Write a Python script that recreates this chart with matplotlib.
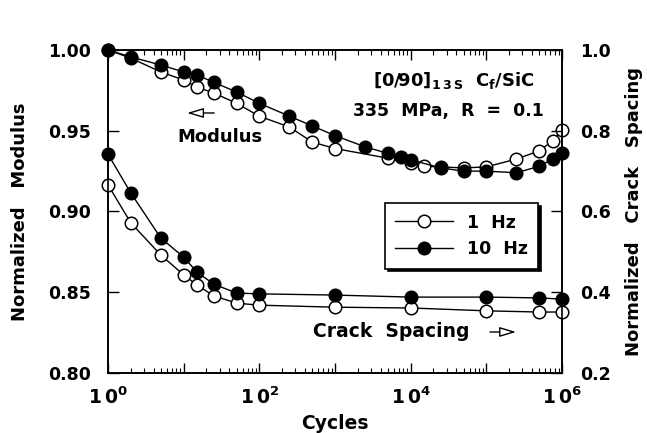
import matplotlib
matplotlib.use("Agg")
import matplotlib.pyplot as plt
from matplotlib.ticker import LogLocator, NullFormatter

plt.rcParams['font.family'] = ['DejaVu Sans']
plt.rcParams['font.weight'] = 'bold'
plt.rcParams['mathtext.default'] = 'bf'

# modulus, 1 Hz (open) and 10 Hz (filled)
mod_n_1hz = [1, 2, 5, 10, 15, 25, 50, 100, 250, 500, 1000, 5000, 1e4, 1.5e4,
             2.5e4, 5e4, 1e5, 2.5e5, 5e5, 7.5e5, 1e6]
mod_1hz = [1.000, 0.995, 0.9864, 0.9814, 0.977, 0.9734, 0.967, 0.959, 0.9523,
           0.943, 0.939, 0.933, 0.930, 0.928, 0.9276, 0.927, 0.9276, 0.9325,
           0.9375, 0.9437, 0.9505]
mod_n_10hz = [1, 2, 5, 10, 15, 25, 50, 100, 250, 500, 1000, 2500, 5000, 7500,
              1e4, 2.5e4, 5e4, 1e5, 2.5e5, 5e5, 7.5e5, 1e6]
mod_10hz = [1.000, 0.9957, 0.9907, 0.9864, 0.9845, 0.980, 0.974, 0.967, 0.959,
            0.953, 0.947, 0.940, 0.936, 0.934, 0.932, 0.927, 0.925, 0.925,
            0.924, 0.928, 0.9325, 0.936]

# crack spacing
crk_n = [1, 2, 5, 10, 15, 25, 50, 100, 1000, 1e4, 1e5, 5e5, 1e6]
crk_1hz = [0.666, 0.572, 0.492, 0.443, 0.418, 0.391, 0.373, 0.368, 0.363,
           0.361, 0.354, 0.351, 0.351]
crk_10hz = [0.742, 0.646, 0.534, 0.487, 0.450, 0.420, 0.398, 0.396, 0.393,
            0.388, 0.388, 0.386, 0.383]

xtick_vals = [1, 10, 1e2, 1e3, 1e4, 1e5, 1e6]
xtick_labels = [r'$\mathbf{1\,0^{0}}$', '', r'$\mathbf{1\,0^{2}}$', '',
                r'$\mathbf{1\,0^{4}}$', '', r'$\mathbf{1\,0^{6}}$']
left_ticks = [0.80, 0.85, 0.90, 0.95, 1.00]
right_ticks = [0.2, 0.4, 0.6, 0.8, 1.0]

fig = plt.figure(figsize=(6.47, 4.33), dpi=100)
ax = fig.add_axes([108/647, 1 - 373/433, 454/647, 323/433])
ax2 = ax.twinx()

open_kw = dict(color='black', lw=1.0, marker='o', ms=9, mfc='white',
               mec='black', mew=1.1, clip_on=False)
fill_kw = dict(color='black', lw=1.0, marker='o', ms=9, mfc='black',
               mec='black', mew=1.1, clip_on=False)

ax.plot(mod_n_1hz, mod_1hz, label='1  Hz', **open_kw)
ax.plot(mod_n_10hz, mod_10hz, label='10  Hz', **fill_kw)
ax2.plot(crk_n, crk_1hz, **open_kw)
ax2.plot(crk_n, crk_10hz, **fill_kw)

ax.set_xscale('log')
ax.set_xlim(1, 1e6)
ax.set_ylim(0.80, 1.00)
ax2.set_ylim(0.2, 1.0)

ax.set_xticks(xtick_vals)
ax.set_xticklabels(xtick_labels)
ax.xaxis.set_minor_locator(LogLocator(base=10, subs=range(2, 10), numticks=20))
ax.xaxis.set_minor_formatter(NullFormatter())

ax.set_yticks(left_ticks)
ax.set_yticklabels(['%.2f' % v for v in left_ticks])
ax2.set_yticks(right_ticks)
ax2.set_yticklabels(['%.1f' % v for v in right_ticks])

ax.tick_params(axis='x', which='major', direction='in', length=7, width=1,
               top=True, labelsize=13.5, pad=10)
ax.tick_params(axis='x', which='minor', direction='in', length=3.5,
               width=0.8, top=True)
ax.tick_params(axis='y', which='major', direction='in', length=8, width=1,
               labelsize=12.5, pad=12)
ax2.tick_params(axis='y', which='major', direction='in', length=8, width=1,
                labelsize=12.5, pad=13)
for a in (ax, ax2):
    for s in a.spines.values():
        s.set_linewidth(1.2)

ax.set_xlabel('Cycles', fontsize=13.5, fontweight='bold', labelpad=4)
ax.set_ylabel('Normalized   Modulus', fontsize=13, fontweight='bold',
              labelpad=14)
ax2.set_ylabel('Normalized   Crack   Spacing', fontsize=13,
               fontweight='bold', labelpad=10)

ax.text(0.94, 0.905,
        r'[0/90]$_{\mathbf{1\,3\,S}}$  C$_{\mathbf{f}}$/SiC',
        transform=ax.transAxes, ha='right', va='center', fontsize=13)
ax.text(0.96, 0.811, '335  MPa,  R  =  0.1', transform=ax.transAxes,
        ha='right', va='center', fontsize=12.5)
ax.text(0.247, 0.731, 'Modulus', transform=ax.transAxes, ha='center',
        va='center', fontsize=13)
ax.annotate('', xy=(0.168, 0.805), xytext=(0.240, 0.805),
            xycoords='axes fraction', textcoords='axes fraction',
            arrowprops=dict(arrowstyle='-|>,head_length=1.0,head_width=0.3',
                            fc='white', ec='black', lw=1.0))
ax.text(0.452, 0.127, 'Crack  Spacing', transform=ax.transAxes, ha='left',
        va='center', fontsize=13.5)
ax.annotate('', xy=(0.905, 0.127), xytext=(0.835, 0.127),
            xycoords='axes fraction', textcoords='axes fraction',
            arrowprops=dict(arrowstyle='-|>,head_length=1.0,head_width=0.3',
                            fc='white', ec='black', lw=1.0))

leg = ax.legend(loc='upper left', bbox_to_anchor=(0.610, 0.526),
                borderaxespad=0, fontsize=12.5, frameon=True, fancybox=False,
                shadow=dict(color='black', alpha=1.0), edgecolor='black',
                framealpha=1.0, handlelength=3.3, borderpad=0.6,
                labelspacing=0.5)
leg.get_frame().set_linewidth(1.2)

fig.savefig('out.png', dpi=100)
